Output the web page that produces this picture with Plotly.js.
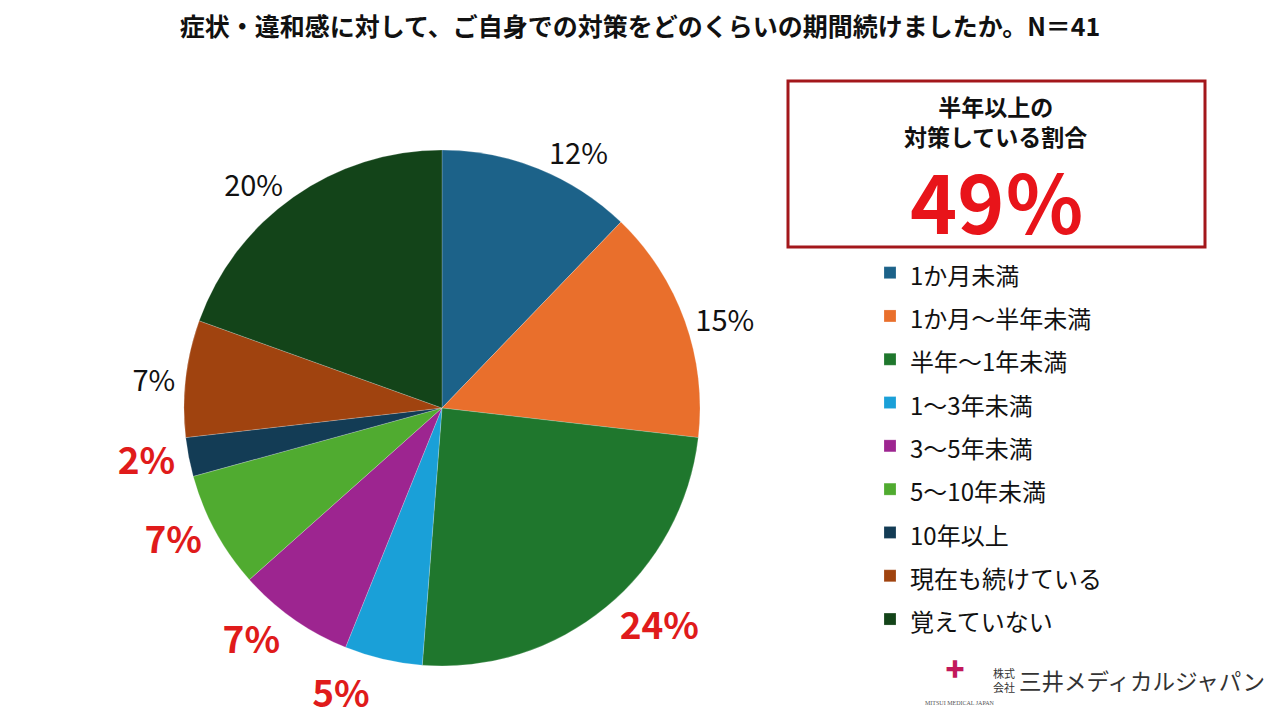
<!DOCTYPE html>
<html>
<head>
<meta charset="utf-8">
<script src="https://cdn.plot.ly/plotly-3.0.1.min.js"></script>
<style>
  body { margin: 0; background: #fff; }
  #chart { width: 1280px; height: 720px; }
  /* the reference has no leader lines on the outside labels */
  #chart path.textline { display: none; }
</style>
</head>
<body>
<div id="chart"></div>
<script>
// categories and answer counts (N=41)
let labels = ['1か月未満', '1か月～半年未満', '半年～1年未満', '1～3年未満', '3～5年未満',
              '5～10年未満', '10年以上', '現在も続けている', '覚えていない'];
let counts = [5, 6, 10, 2, 3, 3, 1, 3, 8];
let colors = ['#1c6289', '#e96f2c', '#1f772d', '#1aa0d8', '#9d2590',
              '#50ab30', '#133c55', '#a0430f', '#134419'];
// labels of the "half a year or more" group are shown in red
let highlight = [false, false, true, true, true, true, true, false, false];

let jp = '"Noto Sans CJK JP", "Noto Sans", sans-serif';

let labelColors = highlight.map(h => h ? '#e01b1b' : '#111');
let labelSizes = highlight.map(h => h ? 37 : 29);
let labelWeights = highlight.map(h => h ? 'bold' : 'normal');
// legend text is drawn at 24px, the legend font size sets the row spacing
let legendLabels = labels.map(l => '<span style="font-size:24px">' + l + '</span>');

let trace1 = {
    type: 'pie',
    labels: legendLabels,
    values: counts,
    sort: false,
    direction: 'clockwise',
    rotation: 0,
    marker: { colors: colors, line: { color: 'rgba(255,255,255,0.4)', width: 0.5 } },
    texttemplate: '%{percent:.0%}',
    textposition: 'outside',
    outsidetextfont: { family: jp, color: labelColors, size: labelSizes, weight: labelWeights },
    hoverinfo: 'value+percent',
    domain: { x: [142 / 1280, 742 / 1280], y: [1 - 666 / 720, 1 - 150 / 720] }
};

let layout = {
    width: 1280,
    height: 720,
    margin: { l: 0, r: 0, t: 0, b: 0 },
    paper_bgcolor: '#fff',
    font: { family: jp, color: '#111' },
    title: {
        text: '<b>症状・違和感に対して、ご自身での対策をどのくらいの期間続けましたか。N＝41</b>',
        font: { family: jp, size: 25, color: '#111' },
        x: 0.5, xanchor: 'center', y: 1 - 27 / 720, yanchor: 'middle'
    },
    showlegend: true,
    legend: {
        x: 870 / 1280, xanchor: 'left', y: 1 - 246 / 720, yanchor: 'top',
        bgcolor: 'rgba(0,0,0,0)',
        font: { family: jp, size: 31, color: '#111' },
        traceorder: 'normal'
    },
    shapes: [{
        type: 'rect', xref: 'paper', yref: 'paper',
        x0: 788 / 1280, x1: 1205 / 1280, y0: 1 - 247 / 720, y1: 1 - 81 / 720,
        line: { color: '#a3171b', width: 3 }, fillcolor: 'rgba(0,0,0,0)'
    }],
    annotations: [
        {
            text: '<b>半年以上の<br>対策している割合</b>', xref: 'paper', yref: 'paper',
            x: 995 / 1280, y: 1 - 121 / 720, xanchor: 'center', yanchor: 'middle',
            showarrow: false, font: { family: jp, size: 23, color: '#111' }
        },
        {
            text: '<b>49％</b>', xref: 'paper', yref: 'paper',
            x: 997 / 1280, y: 1 - 199 / 720, xanchor: 'center', yanchor: 'middle',
            showarrow: false, font: { family: jp, size: 80, color: '#e8141a' }
        },
        {
            text: '✚', xref: 'paper', yref: 'paper',
            x: 955 / 1280, y: 1 - 668 / 720, xanchor: 'center', yanchor: 'middle',
            showarrow: false, font: { family: jp, size: 20, color: '#c2185b' }
        },
        {
            text: '株式<br>会社', xref: 'paper', yref: 'paper',
            x: 1004 / 1280, y: 1 - 680 / 720, xanchor: 'center', yanchor: 'middle',
            showarrow: false, font: { family: jp, size: 11, color: '#333' }
        },
        {
            text: '三井メディカルジャパン', xref: 'paper', yref: 'paper',
            x: 1017 / 1280, y: 1 - 680 / 720, xanchor: 'left', yanchor: 'middle',
            showarrow: false, font: { family: jp, size: 22.5, color: '#333' }
        },
        {
            text: 'MITSUI MEDICAL JAPAN', xref: 'paper', yref: 'paper',
            x: 960 / 1280, y: 1 - 703 / 720, xanchor: 'center', yanchor: 'middle',
            showarrow: false, font: { family: 'Liberation Serif, serif', size: 6, color: '#555' }
        }
    ]
};

Plotly.newPlot('chart', [trace1], layout, { displayModeBar: false, staticPlot: true });
</script>
</body>
</html>
